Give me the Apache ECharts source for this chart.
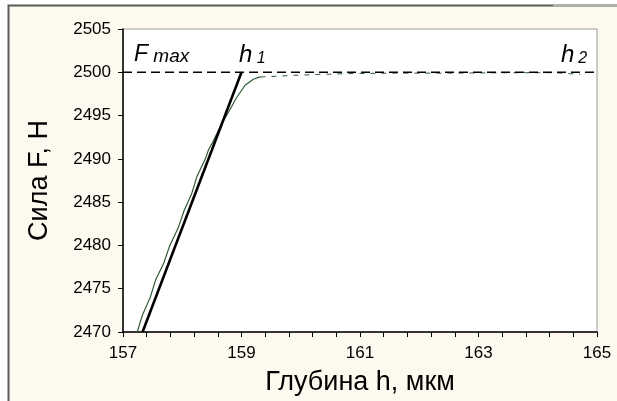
<!DOCTYPE html>
<html>
<head>
<meta charset="utf-8">
<script src="https://cdn.jsdelivr.net/npm/echarts@6/dist/echarts.min.js"></script>
<style>
  html, body { margin: 0; padding: 0; background: #ffffff; }
  #chart { width: 617px; height: 401px; }
</style>
</head>
<body>
<div id="chart"></div>
<script>
// Indentation force curve near the maximum load
const loadDepth = [157.24, 157.33, 157.46, 157.55, 157.69, 157.79, 157.93, 158.03, 158.16, 158.25, 158.39, 158.44, 158.52, 158.66, 158.79, 158.91, 159.06, 159.20, 159.32];
const loadForce = [2470, 2472, 2474, 2476, 2478, 2480, 2482, 2484, 2486, 2488, 2490, 2491, 2492, 2494, 2495.5, 2497, 2498.5, 2499.2, 2499.5];

// Holding at maximum load (creep from h1 to h2)
const holdDepth = [159.32, 159.6, 159.9, 160.3, 160.8, 161.5, 162.5, 163.5, 164.3, 164.72];
const holdForce = [2499.45, 2499.55, 2499.65, 2499.75, 2499.85, 2499.9, 2499.9, 2499.95, 2499.95, 2499.75];

// Linear approximation of the loading branch
const fitDepth = [157.33, 159.0];
const fitForce = [2470, 2500];

// Maximum force level
const fMax = 2500;
const depthRange = [157, 165];

// Axis ticks
const xLabels = [157, 159, 161, 163, 165];
const yMin = 2470, yMax = 2505, yStep = 5;
const xTickStep = 0.4;

const xTicks = [];
for (let i = 0; i <= Math.round((depthRange[1] - depthRange[0]) / xTickStep); i++) {
  xTicks.push(+(depthRange[0] + i * xTickStep).toFixed(2));
}

const zip = (a, b) => a.map((v, i) => [v, b[i]]);

const chart = echarts.init(document.getElementById('chart'), null, { renderer: 'canvas' });
const FONT = 'Liberation Sans, Arial, sans-serif';

chart.setOption({
  animation: false,
  backgroundColor: '#ffffff',
  graphic: [
    {
      type: 'rect', z: -10, silent: true,
      shape: { x: 8.5, y: 5.5, width: 700, height: 500 },
      style: { fill: '#fdf9ee', stroke: '#5a5a5a', lineWidth: 2 }
    },
    {
      type: 'line', z: -9, silent: true,
      shape: { x1: 553, y1: 5.5, x2: 617, y2: 5.5 },
      style: { stroke: '#b5b2ab', lineWidth: 2 }
    },
    {
      type: 'text', left: 134, top: 43, z: 10,
      style: {
        text: '{a|F}{b| max}',
        rich: {
          a: { fontFamily: FONT, fontStyle: 'italic', fontSize: 23, fill: '#000' },
          b: { fontFamily: FONT, fontStyle: 'italic', fontSize: 19, fill: '#000', verticalAlign: 'bottom' }
        }
      }
    },
    {
      type: 'text', left: 239, top: 43, z: 10,
      style: {
        text: '{a|h}{b| 1}',
        rich: {
          a: { fontFamily: FONT, fontStyle: 'italic', fontSize: 24, fill: '#000' },
          b: { fontFamily: FONT, fontStyle: 'italic', fontSize: 16, fill: '#000', verticalAlign: 'bottom' }
        }
      }
    },
    {
      type: 'text', left: 561, top: 43, z: 10,
      style: {
        text: '{a|h}{b|2}',
        rich: {
          a: { fontFamily: FONT, fontStyle: 'italic', fontSize: 24, fill: '#000' },
          b: { fontFamily: FONT, fontStyle: 'italic', fontSize: 16, fill: '#000', verticalAlign: 'bottom', padding: [0, 0, 0, 4] }
        }
      }
    }
  ],
  grid: {
    left: 123, right: 20, top: 29, bottom: 69,
    show: true, backgroundColor: '#ffffff', borderColor: '#9a9a9a', borderWidth: 1
  },
  xAxis: {
    type: 'value',
    min: depthRange[0], max: depthRange[1],
    name: 'Глубина h, мкм',
    nameLocation: 'middle',
    nameGap: 37,
    nameTextStyle: { fontFamily: FONT, fontSize: 27, color: '#000' },
    axisLine: { show: true, onZero: false, lineStyle: { color: '#000', width: 1.5 } },
    axisTick: { show: true, customValues: xTicks, length: 5, lineStyle: { color: '#000' } },
    axisLabel: { customValues: xLabels, margin: 13, fontFamily: FONT, fontSize: 17, color: '#000' },
    splitLine: { show: false }
  },
  yAxis: {
    type: 'value',
    min: yMin, max: yMax, interval: yStep,
    name: 'Сила F, Н',
    nameLocation: 'middle',
    nameGap: 70,
    nameTextStyle: { fontFamily: FONT, fontSize: 27, color: '#000' },
    axisLine: { show: true, onZero: false, lineStyle: { color: '#000', width: 1.5 } },
    axisTick: { show: true, length: 5, lineStyle: { color: '#000' } },
    axisLabel: { margin: 12, fontFamily: FONT, fontSize: 17, color: '#000', formatter: v => String(v) },
    splitLine: { show: false }
  },
  series: [
    {
      name: 'Fmax',
      type: 'line',
      data: zip(depthRange, [fMax, fMax]),
      symbol: 'none',
      lineStyle: { color: '#000', width: 1.6, type: [9, 5] },
      z: 3
    },
    {
      name: 'hold',
      type: 'line',
      data: zip(holdDepth, holdForce),
      symbol: 'none',
      lineStyle: { color: '#2f5a35', width: 1, type: [5, 6] },
      z: 2
    },
    {
      name: 'loading',
      type: 'line',
      data: zip(loadDepth, loadForce),
      symbol: 'none',
      lineStyle: { color: '#2f5a35', width: 1.2 },
      z: 4
    },
    {
      name: 'fit',
      type: 'line',
      data: zip(fitDepth, fitForce),
      symbol: 'none',
      lineStyle: { color: '#000', width: 2.6 },
      z: 5
    }
  ]
});
</script>
</body>
</html>
